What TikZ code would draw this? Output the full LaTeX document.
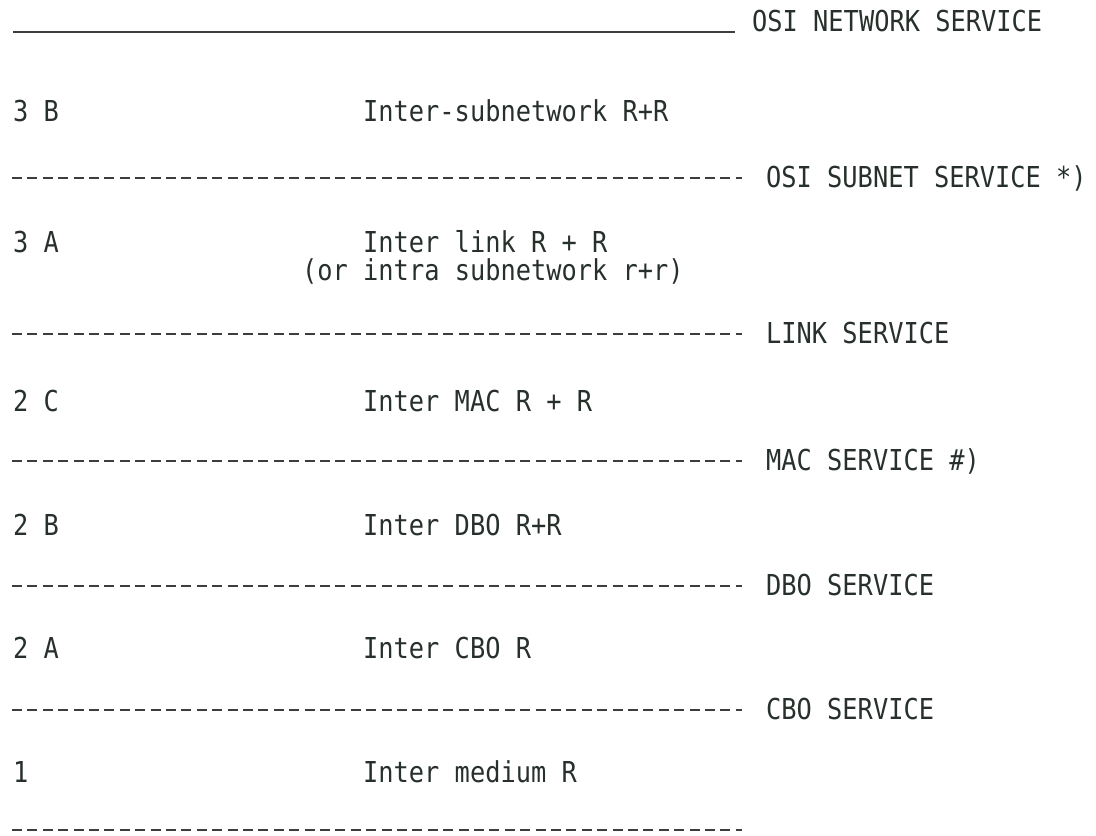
\documentclass[tikz,border=0pt]{standalone}
\usepackage{fontspec}
\usepackage{xcolor}
\usepackage{tikz}
\newfontfamily\typefont[FakeStretch=0.88]{DejaVu Sans Mono}
\definecolor{inkc}{HTML}{27302B}
\definecolor{rulec}{HTML}{3A3F3C}

\begin{document}
\begin{tikzpicture}[x=1pt, y=-1pt,
  txt/.style={anchor=base west, inner sep=0pt, text=inkc, font=\typefont\fontsize{28.8}{30}\selectfont},
  svc/.style={rulec, line width=2pt, dash pattern=on 10pt off 5.4pt},
  net/.style={rulec, line width=1.3pt}]
  \useasboundingbox (0,0) rectangle (1096,836);
  % top boundary
  \coordinate (netL) at (13,32);
  \coordinate (netR) at (735,32);
  \draw[net] (netL) -- (netR);
  \node[txt] (netsvc) at (752,31) {OSI NETWORK SERVICE};
  % layer 3B
  \node[txt] (l3b) at (13,121) {3 B};
  \node[txt] (r3b) at (363,121) {Inter-subnetwork R+R};
  \coordinate (subL) at (12,178);
  \coordinate (subR) at (742,178);
  \draw[svc] (subL) -- (subR);
  \node[txt] (subsvc) at (766,187) {OSI SUBNET SERVICE *)};
  % layer 3A
  \node[txt] (l3a) at (13,252) {3 A};
  \node[txt] (r3a) at (363,252) {Inter link R + R};
  \node[txt] (r3alt) at (302,280) {(or intra subnetwork r+r)};
  \coordinate (linkL) at (12,334);
  \coordinate (linkR) at (742,334);
  \draw[svc] (linkL) -- (linkR);
  \node[txt] (linksvc) at (766,343) {LINK SERVICE};
  % layer 2C
  \node[txt] (l2c) at (13,411) {2 C};
  \node[txt] (r2c) at (363,411) {Inter MAC R + R};
  \coordinate (macL) at (12,461);
  \coordinate (macR) at (742,461);
  \draw[svc] (macL) -- (macR);
  \node[txt] (macsvc) at (766,470) {MAC SERVICE \#)};
  % layer 2B
  \node[txt] (l2b) at (13,535) {2 B};
  \node[txt] (r2b) at (363,535) {Inter DBO R+R};
  \coordinate (dboL) at (12,586);
  \coordinate (dboR) at (742,586);
  \draw[svc] (dboL) -- (dboR);
  \node[txt] (dbosvc) at (766,595) {DBO SERVICE};
  % layer 2A
  \node[txt] (l2a) at (13,658) {2 A};
  \node[txt] (r2a) at (363,658) {Inter CBO R};
  \coordinate (cboL) at (12,710);
  \coordinate (cboR) at (742,710);
  \draw[svc] (cboL) -- (cboR);
  \node[txt] (cbosvc) at (766,719) {CBO SERVICE};
  % layer 1
  \node[txt] (l1) at (13,782) {1};
  \node[txt] (r1) at (363,782) {Inter medium R};
  \coordinate (botL) at (12,830);
  \coordinate (botR) at (742,830);
  \draw[svc] (botL) -- (botR);
\end{tikzpicture}
\end{document}
